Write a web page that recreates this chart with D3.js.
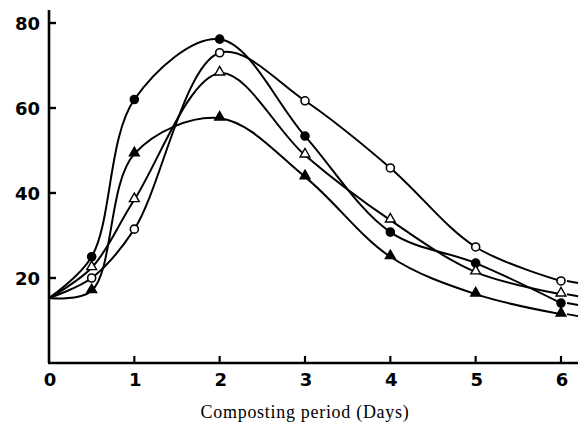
<!DOCTYPE html>
<!-- composting curves: four treatments over 6 days -->
<html>
<head>
<style>
  body { margin: 0; background: #fff; }
</style>
</head>
<body>
<div id="graph_div"></div>

<script src="https://d3js.org/d3.v7.min.js"></script>

<script>

// data
let days = [0, 0.5, 1, 2, 3, 4, 5, 6];
let filled_circle = [15.3, 25, 62, 76.2, 53.4, 30.8, 23.5, 14.1];
let open_circle = [15.3, 20, 31.5, 73, 61.7, 45.9, 27.3, 19.3];
let open_triangle = [15.3, 22.4, 38.4, 68.2, 48.9, 33.6, 21.4, 16.2];
let filled_triangle = [15.3, 17, 49.2, 57.6, 43.8, 25, 16.2, 11.5];
let x_ticks = [0, 1, 2, 3, 4, 5, 6];
let y_ticks = [20, 40, 60, 80];
let x_title = "Composting period (Days)";

let series = [
  {values: filled_circle, shape: "circle", filled: true},
  {values: open_circle, shape: "circle", filled: false},
  {values: open_triangle, shape: "triangle", filled: false},
  {values: filled_triangle, shape: "triangle", filled: true}
];

let container_width = 580,
    container_height = 425;

let svg = d3.select("#graph_div")
  .append("svg")
    .attr("width", container_width)
    .attr("height", container_height)
    .style("display", "block");

// scales
let x = d3.scaleLinear()
  .domain([0, 6])
  .range([49, 561]);

let y = d3.scaleLinear()
  .domain([0, 80])
  .range([363, 23]);

// axes lines
svg.append("line")
  .attr("x1", x(0)).attr("x2", x(0))
  .attr("y1", 10).attr("y2", y(0))
  .attr("stroke", "#000").attr("stroke-width", 2.6);

svg.append("line")
  .attr("x1", x(0) - 1).attr("x2", 578)
  .attr("y1", y(0)).attr("y2", y(0))
  .attr("stroke", "#000").attr("stroke-width", 2.6);

// y ticks
svg.selectAll(".ytick")
  .data(y_ticks)
  .enter()
  .append("line")
    .attr("class", "ytick")
    .attr("x1", x(0)).attr("x2", x(0) + 7)
    .attr("y1", d => y(d)).attr("y2", d => y(d))
    .attr("stroke", "#000").attr("stroke-width", 2.4);

svg.selectAll(".ylab")
  .data(y_ticks)
  .enter()
  .append("text")
    .attr("class", "ylab")
    .attr("x", x(0) - 9)
    .attr("y", d => y(d) + 7)
    .attr("text-anchor", "end")
    .attr("font-family", "DejaVu Sans, sans-serif")
    .attr("font-weight", "bold")
    .attr("font-size", 18)
    .text(d => d);

// x ticks
svg.selectAll(".xtick")
  .data(x_ticks.slice(1))
  .enter()
  .append("line")
    .attr("class", "xtick")
    .attr("x1", d => x(d)).attr("x2", d => x(d))
    .attr("y1", y(0)).attr("y2", y(0) - 7)
    .attr("stroke", "#000").attr("stroke-width", 2.2);

svg.selectAll(".xlab")
  .data(x_ticks)
  .enter()
  .append("text")
    .attr("class", "xlab")
    .attr("x", d => x(d) + 1)
    .attr("y", 386)
    .attr("text-anchor", "middle")
    .attr("font-family", "DejaVu Sans, sans-serif")
    .attr("font-weight", "bold")
    .attr("font-size", 18)
    .text(d => d);

svg.append("text")
  .attr("x", 305)
  .attr("y", 418)
  .attr("text-anchor", "middle")
  .attr("font-family", "Liberation Serif, Times New Roman, serif")
  .attr("font-size", 18)
  .attr("letter-spacing", 0.7)
  .text(x_title);

// curves
let line = d3.line()
  .x((d, i) => x(days[i]))
  .y(d => y(d))
  .curve(d3.curveCatmullRom.alpha(0.5));

let curves = svg.append("g");

series.forEach(s => {
  curves.append("path")
    .attr("d", line(s.values))
    .attr("fill", "none")
    .attr("stroke", "#000")
    .attr("stroke-width", 2);

  // short tail past the last point
  let last = s.values[s.values.length - 1];
  curves.append("line")
    .attr("x1", x(6) + 6).attr("x2", x(6.2))
    .attr("y1", y(last)).attr("y2", y(last) + 2)
    .attr("stroke", "#000").attr("stroke-width", 2);
});

// markers
let tri = d3.symbol().type(d3.symbolTriangle).size(42);

series.forEach(s => {
  let pts = s.values.slice(1).map((v, i) => ({x: days[i + 1], y: v}));
  let g = svg.append("g");
  if (s.shape === "circle") {
    g.selectAll("circle")
      .data(pts)
      .enter()
      .append("circle")
        .attr("cx", d => x(d.x))
        .attr("cy", d => y(d.y))
        .attr("r", 4)
        .attr("fill", s.filled ? "#000" : "#fff")
        .attr("stroke", "#000")
        .attr("stroke-width", 1.6);
  } else {
    g.selectAll("path")
      .data(pts)
      .enter()
      .append("path")
        .attr("d", tri)
        .attr("transform", d => "translate(" + x(d.x) + "," + (y(d.y) - 1) + ")")
        .attr("fill", s.filled ? "#000" : "#fff")
        .attr("stroke", "#000")
        .attr("stroke-width", 1.4);
  }
});

</script>
</body>
</html>
